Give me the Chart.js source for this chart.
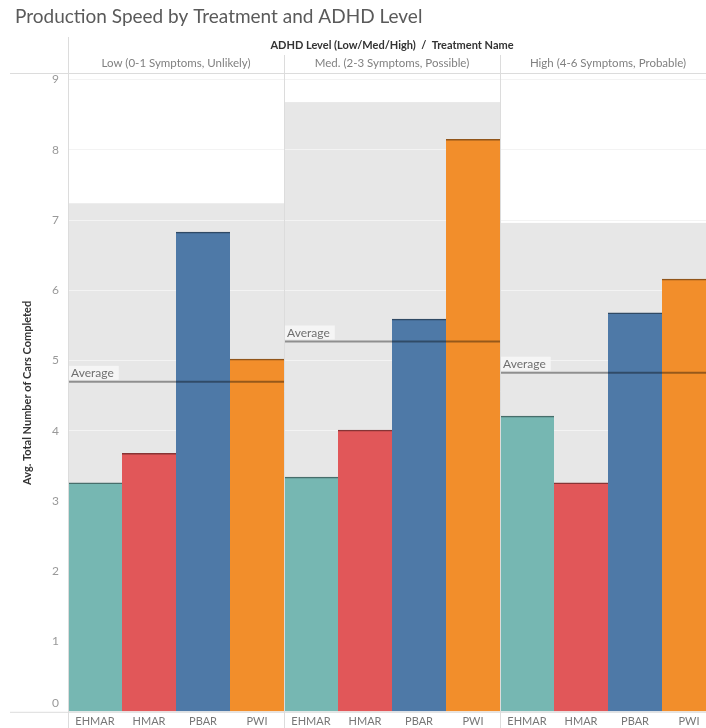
<!DOCTYPE html>
<html>
<head>
<meta charset="utf-8">
<title>Production Speed by Treatment and ADHD Level</title>
<script src="https://cdn.jsdelivr.net/npm/chart.js@4/dist/chart.umd.min.js"></script>
<style>
  html, body { margin: 0; padding: 0; background: #fff; overflow: hidden; }
  #wrap { position: absolute; left: 0; top: 0; width: 716px; height: 728px; }
</style>
</head>
<body>
<div id="wrap"><canvas id="speedChart"></canvas></div>
<script>
// Datos: promedio de coches completados por tratamiento y nivel de TDAH
const treatments = ['EHMAR', 'HMAR', 'PBAR', 'PWI'];
const treatmentColors = ['#76b7b2', '#e15759', '#4e79a7', '#f28e2b'];
const adhdLevels = ['Low (0-1 Symptoms, Unlikely)', 'Med. (2-3 Symptoms, Possible)', 'High (4-6 Symptoms, Probable)'];
const lowValues = [3.26, 3.68, 6.83, 5.02];
const medValues = [3.34, 4.01, 5.59, 8.15];
const highValues = [4.21, 3.26, 5.68, 6.16];
const bandTops = [7.24, 8.68, 6.96];
const yTicks = [0, 1, 2, 3, 4, 5, 6, 7, 8, 9];

const FONT = 'Lato, "Open Sans", sans-serif';
const paneValues = [lowValues, medValues, highValues];
const labels = paneValues.flatMap(() => treatments);
const values = paneValues.flat();
const colors = paneValues.flatMap(() => treatmentColors);
const averages = paneValues.map(v => v.reduce((a, b) => a + b, 0) / v.length);

function darken(hex, f) {
    const n = parseInt(hex.slice(1), 16);
    const r = Math.round(((n >> 16) & 255) * f);
    const g = Math.round(((n >> 8) & 255) * f);
    const b = Math.round((n & 255) * f);
    return `rgb(${r},${g},${b})`;
}

// bordes izquierdo/derecho de cada panel a partir de la escala x
function paneEdges(x, p) {
    const half = (x.getPixelForValue(1) - x.getPixelForValue(0)) / 2;
    const n = treatments.length;
    return [x.getPixelForValue(p * n) - half, x.getPixelForValue(p * n + n - 1) + half];
}

const panePlugin = {
    id: 'panes',
    beforeDraw(chart) {
        // banda gris de referencia detrás de cada panel
        const { ctx, scales: { x, y } } = chart;
        ctx.save();
        ctx.fillStyle = '#e7e7e7';
        bandTops.forEach((top, p) => {
            const [l, r] = paneEdges(x, p);
            const yt = y.getPixelForValue(top);
            const yb = y.getPixelForValue(0);
            ctx.fillRect(l, yt, r - l, yb - yt);
        });
        ctx.restore();
    },
    afterDatasetsDraw(chart) {
        // línea de promedio por panel
        const { ctx, scales: { x, y } } = chart;
        ctx.save();
        averages.forEach((avg, p) => {
            const [l, r] = paneEdges(x, p);
            const py = y.getPixelForValue(avg);
            ctx.strokeStyle = 'rgba(0,0,0,0.38)';
            ctx.lineWidth = 2;
            ctx.beginPath();
            ctx.moveTo(l + 1, py);
            ctx.lineTo(r, py);
            ctx.stroke();

            ctx.font = '12px ' + FONT;
            const w = ctx.measureText('Average').width;
            ctx.fillStyle = 'rgba(246,246,246,0.92)';
            ctx.fillRect(l + 1, py - 16, w + 7, 14);
            ctx.fillStyle = '#6f6f6f';
            ctx.textAlign = 'left';
            ctx.textBaseline = 'middle';
            ctx.fillText('Average', l + 3, py - 8.5);
        });
        ctx.restore();
    },
    afterDraw(chart) {
        const { ctx, chartArea, scales: { x, y } } = chart;
        const bottom = y.getPixelForValue(0);
        ctx.save();

        // título
        ctx.fillStyle = '#5a5a5a';
        ctx.font = '19px ' + FONT;
        ctx.textAlign = 'left';
        ctx.textBaseline = 'middle';
        ctx.fillText('Production Speed by Treatment and ADHD Level', 15, 17);

        // etiqueta del cero, algo por encima del eje como en Tableau
        ctx.fillStyle = '#999';
        ctx.font = '12px ' + FONT;
        ctx.textAlign = 'right';
        ctx.fillText('0', chartArea.left - 9, bottom - 9);

        // cabecera de columnas
        ctx.fillStyle = '#333';
        ctx.font = 'bold 11px ' + FONT;
        ctx.textAlign = 'center';
        ctx.fillText('ADHD Level (Low/Med/High)  /  Treatment Name', (chartArea.left + chartArea.right) / 2, 45);

        ctx.font = '11.5px ' + FONT;
        ctx.fillStyle = '#808080';
        adhdLevels.forEach((lvl, p) => {
            const [l, r] = paneEdges(x, p);
            ctx.fillText(lvl, (l + r) / 2, 63);
        });

        // líneas de separación
        ctx.strokeStyle = '#dcdcdc';
        ctx.lineWidth = 1;
        ctx.beginPath();
        ctx.moveTo(10, chartArea.top - 0.5);
        ctx.lineTo(chart.width, chartArea.top - 0.5);
        ctx.moveTo(10, bottom + 0.5);
        ctx.lineTo(chart.width, bottom + 0.5);
        ctx.moveTo(chartArea.left + 0.5, 37);
        ctx.lineTo(chartArea.left + 0.5, chart.height);
        for (let p = 1; p < adhdLevels.length; p++) {
            const [l] = paneEdges(x, p);
            ctx.moveTo(Math.round(l) + 0.5, 55);
            ctx.lineTo(Math.round(l) + 0.5, chart.height);
        }
        ctx.stroke();
        ctx.restore();
    }
};

const speedChart = new Chart(document.getElementById('speedChart'), {
    type: 'bar',
    data: {
        labels: labels,
        datasets: [{
            data: values,
            backgroundColor: colors,
            borderColor: colors.map(c => darken(c, 0.6)),
            borderWidth: { top: 1.5, left: 0, right: 0, bottom: 0 },
            borderSkipped: 'start',
            barPercentage: 1,
            categoryPercentage: 1
        }]
    },
    options: {
        responsive: true,
        maintainAspectRatio: false,
        animation: false,
        layout: { padding: { top: 74, left: 0, right: 0, bottom: 0 } },
        plugins: {
            legend: { display: false },
            tooltip: { enabled: false }
        },
        scales: {
            x: {
                grid: { display: false, drawTicks: false },
                border: { display: false },
                ticks: {
                    color: '#777',
                    font: { family: FONT, size: 11 },
                    padding: 3,
                    autoSkip: false,
                    maxRotation: 0
                },
                afterFit: s => { s.height = 16; }
            },
            y: {
                min: 0,
                max: 9.08,
                afterBuildTicks: s => { s.ticks = yTicks.map(v => ({ value: v })); },
                grid: { color: '#f3f3f3', lineWidth: 1, drawTicks: false },
                border: { display: false },
                ticks: {
                    color: '#999',
                    font: { family: FONT, size: 12 },
                    padding: 9,
                    // el cero se dibuja aparte en el plugin
                    callback: v => (v === 0 ? '' : v)
                },
                title: {
                    display: true,
                    text: 'Avg. Total Number of Cars Completed',
                    color: '#333',
                    font: { family: FONT, size: 11, weight: 'bold' },
                    padding: { top: 21, bottom: 0 }
                },
                afterFit: s => { s.width = 68; }
            }
        }
    },
    plugins: [panePlugin]
});
</script>
</body>
</html>
